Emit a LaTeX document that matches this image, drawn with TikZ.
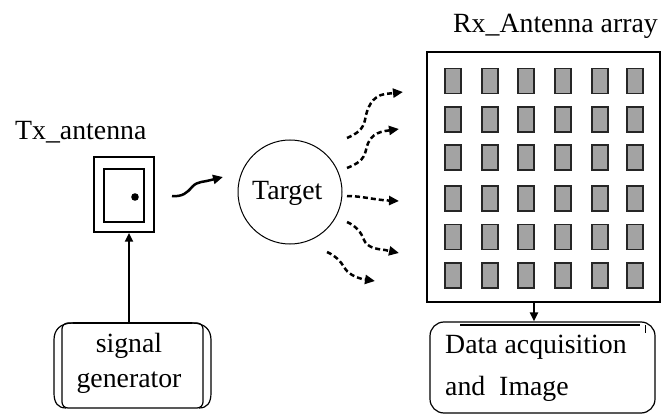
\documentclass[tikz,border=0pt]{standalone}
\usepackage{fontspec}
\setmainfont{Liberation Serif}
\usetikzlibrary{arrows.meta}
\begin{document}
\begin{tikzpicture}[x=1pt,y=-1pt,
  lbl/.style={inner sep=0pt,anchor=base west,font=\fontsize{27.8}{32}\selectfont},
  box/.style={draw,line width=1.2pt,inner sep=0pt},
  elem/.style={draw=black!85,line width=1.6pt,fill=black!36,minimum width=16pt,minimum height=25pt,inner sep=0pt},
  solidarrow/.style={line width=2.8pt,-{Triangle[length=9pt,width=8pt]}},
  wave/.style={line width=2.5pt,-{Triangle[length=10pt,width=9pt]}},
  dwave/.style={wave,dash pattern=on 5pt off 3pt}]
\useasboundingbox (0,0) rectangle (662,417);
% labels
\node[lbl] (txlbl) at (15,140) {Tx\_antenna};
\node[lbl] (rxlbl) at (453,33) {Rx\_Antenna array};
% Tx antenna
\node[box,line width=1.5pt,minimum width=60pt,minimum height=75pt] (tx) at (124,194.5) {};
\node[box,minimum width=40pt,minimum height=53pt] (txin) at (124,195.5) {};
\fill (135,197) circle (3.8pt);
% signal generator
\node[box,rounded corners=6pt,minimum width=141pt,minimum height=85pt] (sg) at (132.5,365.5) {};
\draw[line width=1.2pt] (73,323) .. controls (60,323) and (54,330) .. (54,340) -- (54,393) .. controls (54,403) and (58,408) .. (66,408);
\draw[line width=1.2pt] (192,323) .. controls (205,323) and (211,330) .. (211,340) -- (211,393) .. controls (211,403) and (207,408) .. (199,408);
\draw[line width=2pt] (73,323) -- (192,323);
\node[lbl,anchor=base] (sg1) at (129,352) {signal};
\node[lbl,anchor=base] (sg2) at (129,387) {generator};
\draw[solidarrow] ([xshift=5pt]tx.south |- sg.north) -- ([xshift=5pt]tx.south);
% target
\node[draw,circle,line width=1pt,minimum size=104pt,inner sep=0pt] (target) at (290,192) {};
\node[lbl] (tgt) at (252,200) {Target};
% wave tx -> target
\coordinate (w0s) at (172,196);
\coordinate (w0e) at (223,177);
\draw[wave] (w0s) .. controls (182,197) and (187,193) .. (192,187) .. controls (197,181) and (205,182) .. (211,180) -- (w0e);
% scattered waves
\coordinate (s1) at (347,138); \coordinate (e1) at (403,92);
\coordinate (s2) at (347,168); \coordinate (e2) at (399,129);
\coordinate (s3) at (347,196); \coordinate (e3) at (399,201);
\coordinate (s4) at (347,222); \coordinate (e4) at (399,253);
\coordinate (s5) at (327,252); \coordinate (e5) at (375,281);
\draw[dwave] (s1) .. controls (356,134) and (363,130) .. (365,120) .. controls (367,108) and (372,96) .. (385,94) -- (e1);
\draw[dwave] (s2) .. controls (357,164) and (364,160) .. (366,150) .. controls (368,140) and (373,133) .. (385,131) -- (e2);
\draw[dwave] (s3) .. controls (362,196) and (375,200) .. (e3);
\draw[dwave] (s4) .. controls (356,226) and (361,232) .. (364,240) .. controls (367,247) and (375,249) .. (385,250) -- (e4);
\draw[dwave] (s5) .. controls (336,256) and (341,262) .. (344,267) .. controls (348,274) and (355,277) .. (362,279) -- (e5);
% Rx array
\node[box,minimum width=233pt,minimum height=250pt] (rx) at (543.5,177) {};
\foreach \x in {453,490,526,563,600,635}
  \foreach \y in {81,119.5,157.5,198.5,237,275.5}
    \node[elem] at (\x,\y) {};
% data acquisition
\node[box,rounded corners=14pt,minimum width=225pt,minimum height=91pt] (daq) at (542.5,367.5) {};
\draw[line width=1.3pt] (460,325) -- (640,325);
\draw[line width=1pt] (645,325) -- (645,333);
\node[lbl] (d1) at (445,353) {Data acquisition};
\node[lbl] (d2) at (445,395) {and~~Image};
\draw[solidarrow] ([xshift=-9.5pt]rx.south) -- ([xshift=-9.5pt]rx.south |- daq.north);
\end{tikzpicture}
\end{document}
